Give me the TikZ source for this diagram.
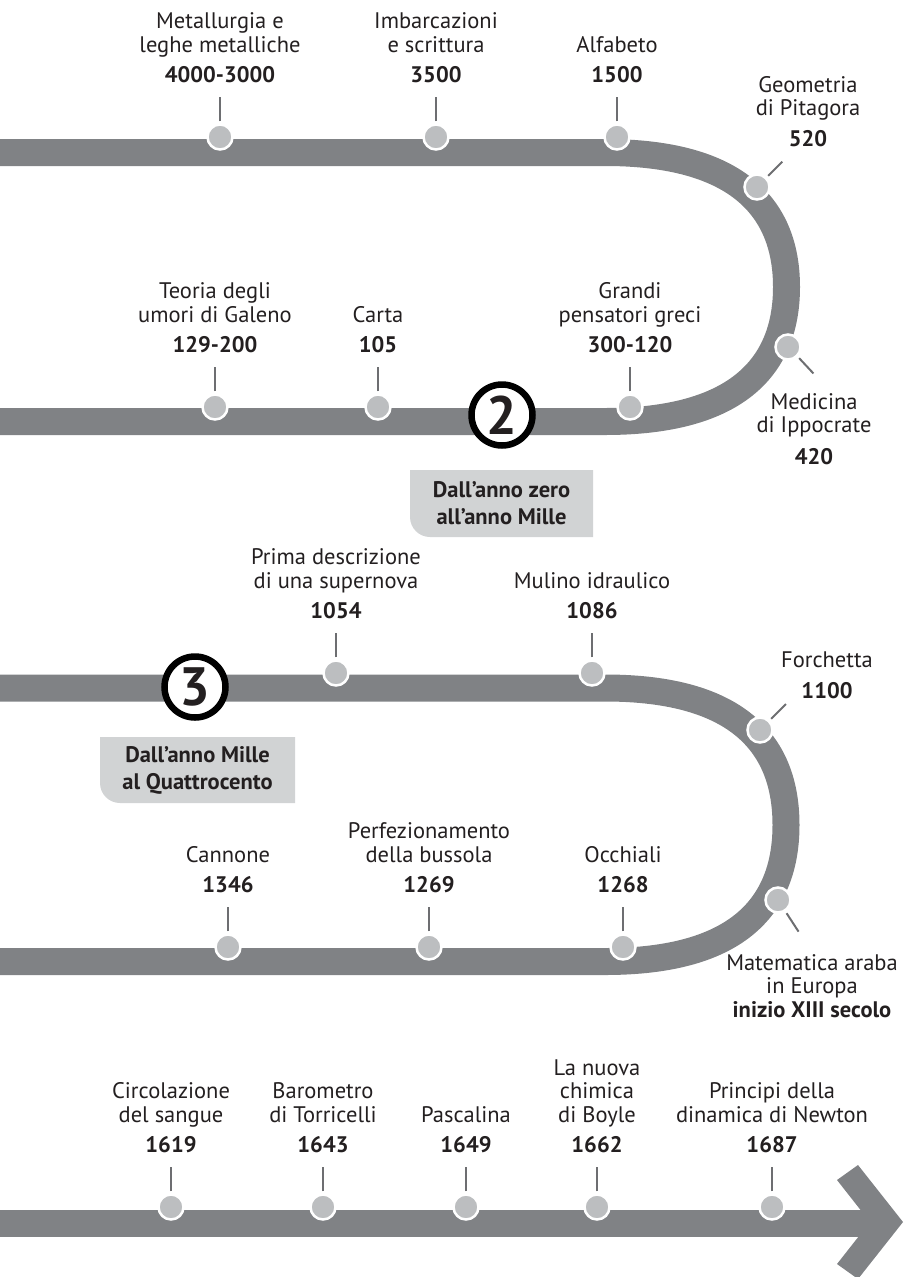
\documentclass[tikz,border=0pt]{standalone}
\usepackage{fontspec}
\setmainfont{PT Sans}
\usetikzlibrary{positioning}

\definecolor{trackgray}{HTML}{808285}
\definecolor{pingray}{HTML}{BCBEC0}
\definecolor{boxgray}{HTML}{D1D3D4}
\definecolor{tickgray}{HTML}{6D6E71}
\definecolor{inkgray}{HTML}{231F20}

\tikzset{
  track/.style={draw=trackgray, line width=27pt},
  pin/.style={circle, fill=pingray, draw=white, line width=2.5pt, minimum size=25pt, inner sep=0pt},
  tick/.style={draw=tickgray, line width=2pt},
  event/.style={align=center, inner sep=0pt, text=inkgray, font=\fontsize{22.5}{23.5}\selectfont},
  era/.style={circle, draw=black, line width=6.5pt, fill=white, minimum size=61pt, inner sep=0pt, text=inkgray, font=\fontsize{54}{54}\selectfont\bfseries},
  eratext/.style={align=center, inner sep=0pt, text=inkgray, font=\fontsize{22.5}{27}\selectfont\bfseries}
}

\begin{document}
\begin{tikzpicture}[x=1pt, y=1pt]
        \useasboundingbox (0,0) rectangle (905,-1277);
        \clip (0,0) rectangle (905,-1277);

        % Tracks
        \draw[track] (-10,-152.5) -- (605,-152.5)
            .. controls (740,-152.5) and (786.5,-210) .. (786.5,-287)
            .. controls (786.5,-364) and (740,-421.5) .. (605,-421.5) -- (-10,-421.5);
        \draw[track] (-10,-688) -- (605,-688)
            .. controls (740,-688) and (786,-746) .. (786,-825)
            .. controls (786,-904) and (740,-961.5) .. (605,-961.5) -- (-10,-961.5);
        \draw[track] (-10,-1223) -- (872,-1223);
        \fill[trackgray] (837,-1180) -- (858,-1165) -- (903,-1222) -- (858,-1279)
            -- (837,-1264) -- (870,-1222) -- cycle;

        % First loop, top
        \node[pin] (pmet) at (220,-137) {};
        \node[event, above=40pt of pmet] (lmet) {Metallurgia e\\leghe metalliche\\[7pt]\textbf{4000-3000}};
        \draw[tick] ([yshift=2pt]pmet.north) -- ([yshift=-14pt]lmet.south);

        \node[pin] (pimb) at (436,-137) {};
        \node[event, above=40pt of pimb] (limb) {Imbarcazioni\\e scrittura\\[7pt]\textbf{3500}};
        \draw[tick] ([yshift=2pt]pimb.north) -- ([yshift=-14pt]limb.south);

        \node[pin] (palf) at (617,-137) {};
        \node[event, above=40pt of palf] (lalf) {Alfabeto\\[7pt]\textbf{1500}};
        \draw[tick] ([yshift=2pt]palf.north) -- ([yshift=-14pt]lalf.south);

        % First loop, bend
        \node[pin] (pgeo) at (757,-187) {};
        \node[event, anchor=south] (lgeo) at (808,-147) {Geometria\\di Pitagora\\[7pt]\textbf{520}};
        \draw[tick] (pgeo.45) ++(45:2) -- ++(45:20);

        \node[pin] (pmed) at (788,-347) {};
        \node[event, anchor=south] (lmed) at (814,-465) {Medicina\\di Ippocrate\\[8pt]\textbf{420}};
        \draw[tick] (pmed.-45) ++(-45:2) -- ++(-47:21);

        % First loop, bottom
        \node[pin] (pgal) at (215,-407) {};
        \node[event, above=40pt of pgal] (lgal) {Teoria degli\\umori di Galeno\\[7pt]\textbf{129-200}};
        \draw[tick] ([yshift=2pt]pgal.north) -- ([yshift=-14pt]lgal.south);

        \node[pin] (pcar) at (378,-407) {};
        \node[event, above=40pt of pcar] (lcar) {Carta\\[7pt]\textbf{105}};
        \draw[tick] ([yshift=2pt]pcar.north) -- ([yshift=-14pt]lcar.south);

        \node[pin] (pgre) at (630,-407) {};
        \node[event, above=40pt of pgre] (lgre) {Grandi\\pensatori greci\\[7pt]\textbf{300-120}};
        \draw[tick] ([yshift=2pt]pgre.north) -- ([yshift=-14pt]lgre.south);

        \node[era] (era2) at (502,-415) {2};
        \fill[boxgray] (410,-470) -- (593,-470) -- (593,-537) -- (430,-537)
            arc[start angle=270, end angle=180, radius=20] -- cycle;
        \node[eratext] (box2) at (501.5,-503.5) {Dall’anno zero\\all’anno Mille};

        % Second loop, top
        \node[era] (era3) at (195,-687) {3};
        \fill[boxgray] (100,-737) -- (295,-737) -- (295,-803) -- (120,-803)
            arc[start angle=270, end angle=180, radius=20] -- cycle;
        \node[eratext] (box3) at (197.5,-770) {Dall’anno Mille\\al Quattrocento};

        \node[pin] (psup) at (336,-673) {};
        \node[event, above=40pt of psup] (lsup) {Prima descrizione\\di una supernova\\[7pt]\textbf{1054}};
        \draw[tick] ([yshift=2pt]psup.north) -- ([yshift=-14pt]lsup.south);

        \node[pin] (pmul) at (592,-673) {};
        \node[event, above=40pt of pmul] (lmul) {Mulino idraulico\\[7pt]\textbf{1086}};
        \draw[tick] ([yshift=2pt]pmul.north) -- ([yshift=-14pt]lmul.south);

        % Second loop, bend
        \node[pin] (pfor) at (760,-730) {};
        \node[event, anchor=south] (lfor) at (827,-699) {Forchetta\\[7pt]\textbf{1100}};
        \draw[tick] (pfor.45) ++(45:2) -- ++(45:21);

        \node[pin] (pmat) at (778,-900) {};
        \node[event, anchor=south] (lmat) at (812,-1018) {Matematica araba\\in Europa\\\textbf{inizio XIII secolo}};
        \draw[tick] (pmat.-57) ++(-57:2) -- ++(-57:22);

        % Second loop, bottom
        \node[pin] (pcan) at (228,-947) {};
        \node[event, above=40pt of pcan] (lcan) {Cannone\\[7pt]\textbf{1346}};
        \draw[tick] ([yshift=2pt]pcan.north) -- ([yshift=-14pt]lcan.south);

        \node[pin] (pbus) at (429,-947) {};
        \node[event, above=40pt of pbus] (lbus) {Perfezionamento\\della bussola\\[7pt]\textbf{1269}};
        \draw[tick] ([yshift=2pt]pbus.north) -- ([yshift=-14pt]lbus.south);

        \node[pin] (pocc) at (623,-947) {};
        \node[event, above=40pt of pocc] (locc) {Occhiali\\[7pt]\textbf{1268}};
        \draw[tick] ([yshift=2pt]pocc.north) -- ([yshift=-14pt]locc.south);

        % Last row
        \node[pin] (psan) at (171,-1207) {};
        \node[event, above=40pt of psan] (lsan) {Circolazione\\del sangue\\[7pt]\textbf{1619}};
        \draw[tick] ([yshift=2pt]psan.north) -- ([yshift=-14pt]lsan.south);

        \node[pin] (ptor) at (323,-1207) {};
        \node[event, above=40pt of ptor] (ltor) {Barometro\\di Torricelli\\[7pt]\textbf{1643}};
        \draw[tick] ([yshift=2pt]ptor.north) -- ([yshift=-14pt]ltor.south);

        \node[pin] (ppas) at (466,-1207) {};
        \node[event, above=40pt of ppas] (lpas) {Pascalina\\[7pt]\textbf{1649}};
        \draw[tick] ([yshift=2pt]ppas.north) -- ([yshift=-14pt]lpas.south);

        \node[pin] (pboy) at (597,-1207) {};
        \node[event, above=40pt of pboy] (lboy) {La nuova\\chimica\\di Boyle\\[7pt]\textbf{1662}};
        \draw[tick] ([yshift=2pt]pboy.north) -- ([yshift=-14pt]lboy.south);

        \node[pin] (pnew) at (772,-1207) {};
        \node[event, above=40pt of pnew] (lnew) {Principi della\\dinamica di Newton\\[7pt]\textbf{1687}};
        \draw[tick] ([yshift=2pt]pnew.north) -- ([yshift=-14pt]lnew.south);
\end{tikzpicture}
\end{document}
